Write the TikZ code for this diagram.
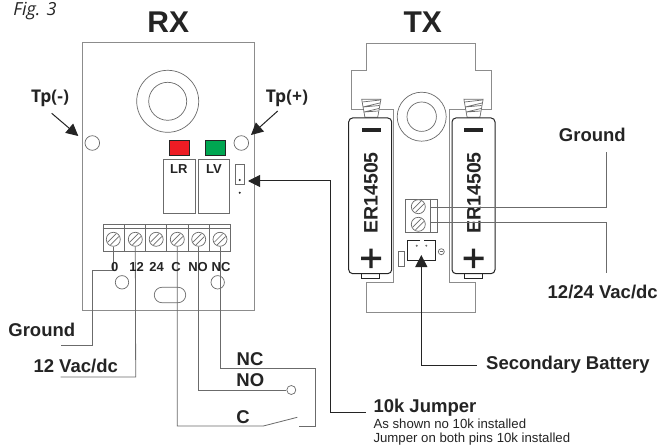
\documentclass[tikz,border=0pt]{standalone}
\usepackage{fontspec}
\setmainfont{Liberation Sans}
\newfontfamily\figfont{Open Sans}
\usetikzlibrary{arrows.meta,shapes.misc}
\definecolor{outl}{gray}{0.55}
\definecolor{wire}{gray}{0.42}
\definecolor{ink}{gray}{0.14}
\definecolor{ledred}{RGB}{237,28,36}
\definecolor{ledgreen}{RGB}{0,166,81}
\tikzset{
  x=1pt,y=-1pt,
  board/.style={draw=outl,line width=1pt},
  part/.style={draw=wire,line width=0.7pt},
  cable/.style={draw=wire,line width=0.8pt},
  box/.style={part,fill=white,rectangle,inner sep=0pt,anchor=north west},
  hole/.style={part,circle,inner sep=0pt,fill=white},
  led/.style={draw=ink,line width=1.3pt,rectangle,inner sep=0pt,minimum width=20pt,minimum height=15pt},
  battery/.style={draw=ink,line width=1pt,fill=white,rectangle,rounded corners=4pt,inner sep=0pt,minimum width=43pt,minimum height=155.7pt},
  lead/.style={draw=ink,line width=1pt,-{Triangle[length=12pt,width=12pt]}},
  lbl/.style={font=\bfseries\fontsize{18.5}{18.5}\selectfont,text=ink,inner sep=0pt},
  term/.style={font=\bfseries\fontsize{13}{13}\selectfont,text=ink,inner sep=0pt},
  tp/.style={font=\figfont\bfseries\fontsize{17.5}{17.5}\selectfont,text=ink,inner sep=0pt},
  big/.style={font=\bfseries\fontsize{30}{30}\selectfont,text=ink,inner sep=0pt},
  cell/.style={font=\bfseries\fontsize{19.5}{19.5}\selectfont,text=ink,inner sep=0pt,rotate=90},
  small/.style={font=\fontsize{13.2}{13.2}\selectfont,text=ink,inner sep=0pt,anchor=base west},
}
\newcommand{\screwat}[3]{%
  \node[hole,minimum size=14pt] (#1) at (#2,#3) {};
  \draw[part] (#2-5.6,#3+2.8) -- (#2+2.8,#3-5.6) (#2-2.8,#3+5.6) -- (#2+5.6,#3-2.8);
}
\newcommand{\springat}[1]{%
  \draw[part,fill=white] (#1-9.6,99.3) -- (#1+9.6,99.3) -- (#1+6.4,117.3) -- (#1-6.4,117.3) -- cycle;
  \draw[part] (#1-9,102) -- (#1+9,100) (#1+8.6,103) -- (#1-8.4,107) (#1-8,107) -- (#1+8,105.5)
     (#1+7.6,108.5) -- (#1-7.4,112) (#1-7,112) -- (#1+7,111);
}
\begin{document}
\begin{tikzpicture}
\useasboundingbox (0,0) rectangle (660,446);
\fill[white] (0,0) rectangle (660,446);

% captions
\node[font=\figfont\itshape\fontsize{18}{18}\selectfont,text=ink,inner sep=0pt] (fig) at (35,11) {Fig. 3};
\node[big] (rxt) at (168.3,22.5) {RX};
\node[big] (txt) at (422.7,22.5) {TX};

% RX board
\node[board,rectangle,inner sep=0pt,anchor=north west,minimum width=172pt,minimum height=268.3pt] (rxb) at (81.7,41.7) {};
\node[hole,minimum size=62pt] (rxo) at (167.7,101.3) {};
\node[hole,minimum size=38pt] (rxi) at (167.7,101.3) {};
\node[hole,minimum size=14.6pt] (tpl) at (92.3,143) {};
\node[hole,minimum size=14.6pt] (tpr) at (241.3,143) {};
\node[led,fill=ledred] (lr) at (179.6,147.7) {};
\node[led,fill=ledgreen] (lv) at (215.5,147.7) {};
\node[box,minimum width=31.4pt,minimum height=54.6pt] (lrb) at (163.3,158.7) {};
\node[box,minimum width=31pt,minimum height=54.6pt] (lvb) at (198.3,158.7) {};
\node[term] at (178.9,169.5) {LR};
\node[term] at (214,169.5) {LV};
\node[box,minimum width=8.7pt,minimum height=19.4pt] (jp) at (235.3,164.3) {};
\fill[ink] (239.7,180) circle (1.1);
\fill[ink] (239.7,192.7) circle (1.1);

% RX terminal block
\node[box,minimum width=127.6pt,minimum height=27pt] (tb) at (102.7,224) {};
\draw[part] (102.7,228.3) -- (230.3,228.3);
\draw[part] (124.3,224) -- (124.3,251) (145.7,224) -- (145.7,251) (166.7,224) -- (166.7,251)
            (188.3,224) -- (188.3,251) (209,224) -- (209,251);
\screwat{s0}{113.3}{239.3}
\screwat{s12}{135.3}{239.3}
\screwat{s24}{156.2}{239.3}
\screwat{sc}{177.3}{239.3}
\screwat{sno}{198.7}{239.3}
\screwat{snc}{220}{239.3}
\node[hole,minimum size=13.4pt] (h1) at (122,282.3) {};
\node[hole,minimum size=13.4pt] (h2) at (217.7,282.3) {};
\node[part,rectangle,rounded corners=7.6pt,inner sep=0pt,minimum width=31.4pt,minimum height=15.4pt] (slot) at (170,295) {};

% RX wires
\coordinate (g0) at (60.7,345.7);
\coordinate (g12) at (60.7,377);
\coordinate (cb) at (263.3,426);
\coordinate (ct) at (297.3,417.3);
\coordinate (cr) at (299,426);
\node[hole,minimum size=9pt] (nop) at (291.3,390) {};
\draw[cable] (s0.south) |- (92.3,270.7) -- (92.3,345.7) -- (g0);
\draw[cable] (s12.south) -- (135.7,377) -- (g12);
\draw[cable] (sc.south) |- (cb) -- (ct);
\draw[cable] (cr) -- (315.3,426) -- (315.3,368.7) -| (snc.south);
\draw[cable] (sno.south) |- (nop.west);

\node[term] at (114.7,266.7) {0};
\node[term] at (136.7,266.7) {12};
\node[term] at (156.7,266.7) {24};
\node[term] at (176,266.7) {C};
\node[term] at (198,266.7) {NO};
\node[term] at (221,266.7) {NC};

\node[tp] (tm) at (50,98) {Tp(-)};
\node[tp] (tp) at (287,98) {Tp(+)};
\coordinate (tma) at (51.7,113.3);
\coordinate (tmb) at (78.3,136);
\coordinate (tpa) at (277.7,111);
\coordinate (tpb) at (251,135);
\draw[lead] (tma) -- (tmb);
\draw[lead] (tpa) -- (tpb);

\node[lbl] (lg) at (41.8,330) {Ground};
\node[lbl] (l12) at (75.7,366) {12 Vac/dc};
\node[lbl] (lnc) at (250,359) {NC};
\node[lbl] (lno) at (250.3,380.3) {NO};
\node[lbl] (lc) at (243,416.7) {C};

% TX outline
\draw[board] (393.3,110) -- (351.7,110) -- (351.7,70.7) -- (366.7,70.7) -- (366.7,43.7) -- (475.7,43.7)
   -- (475.7,70.7) -- (491,70.7) -- (491,110) -- (449,110) -- (449,282.3) -- (475.3,282.3) -- (475.3,312.7)
   -- (366.7,312.7) -- (366.7,282.3) -- (393.3,282.3) -- cycle;
\node[hole,minimum size=49pt] (txo) at (421.7,116.7) {};
\node[hole,minimum size=29.4pt] (txi) at (421.7,116.7) {};
\springat{371.3}
\springat{473.5}

% batteries
\draw[draw=ink,line width=0.9pt,fill=white] (361.7,272) rectangle (379,278.7);
\draw[draw=ink,line width=0.9pt,fill=white] (464.7,272) rectangle (482,278.7);
\node[battery] (b1) at (370.2,195.8) {};
\node[battery] (b2) at (473.5,195.8) {};
\foreach \cx in {371,473.5}{
  \fill[ink] (\cx-9.5,128.4) rectangle (\cx+9.5,131.6);
  \fill[ink] (\cx-10,256.7) rectangle (\cx+10,260) (\cx-1.7,248.5) rectangle (\cx+1.7,268);
}
\node[cell] (e1) at (371,192.8) {ER14505};
\node[cell] (e2) at (474,192.8) {ER14505};

% TX terminals
\node[box,minimum width=31.7pt,minimum height=33.6pt] (tt) at (405.3,198.7) {};
\draw[part] (430.7,198.7) -- (430.7,232.3);
\screwat{t1}{418.3}{206.7}
\screwat{t2}{418.3}{224.3}
\coordinate (tg) at (606,152.3);
\coordinate (tv) at (606,272.7);
\draw[cable] (430.7,207.7) -- (606,207.7) -- (tg);
\draw[cable] (430.7,222.3) -- (606,222.3) -- (tv);

% connector
\draw[ink,line width=0.9pt] (420,240) -| (407.3,260.7) -- (435.7,260.7) |- (423.5,240);
\fill[wire] (416.7,245.7) circle (1.1) (426.3,245.7) circle (1.1);
\node[part,rectangle,fill=white,inner sep=0pt,minimum width=6.3pt,minimum height=15.7pt] (r1) at (401.2,258.8) {};
\node[part,circle,inner sep=0pt,minimum size=6pt] (mc) at (441.3,251.7) {};
\draw[part] (439.6,251.7) -- (443,251.7);

\coordinate (sb1) at (476.7,365.7);
\coordinate (sb2) at (421.3,255);
\draw[lead] (sb1) -| (sb2);
\coordinate (j1) at (365.7,412.3);
\coordinate (j2) at (248,181);
\draw[lead] (j1) -- (330.3,412.3) |- (j2);

\node[lbl] (tgl) at (592.3,135) {Ground};
\node[lbl] (tvl) at (602.7,291.7) {12/24 Vac/dc};
\node[lbl,anchor=west] (sbl) at (486,364.3) {Secondary Battery};
\node[lbl,anchor=west] (jl) at (373.3,407.5) {10k Jumper};
\node[small] (s1) at (373.3,428.5) {As shown no 10k installed};
\node[small] (s2) at (373.3,442.3) {Jumper on both pins 10k installed};
\end{tikzpicture}
\end{document}
